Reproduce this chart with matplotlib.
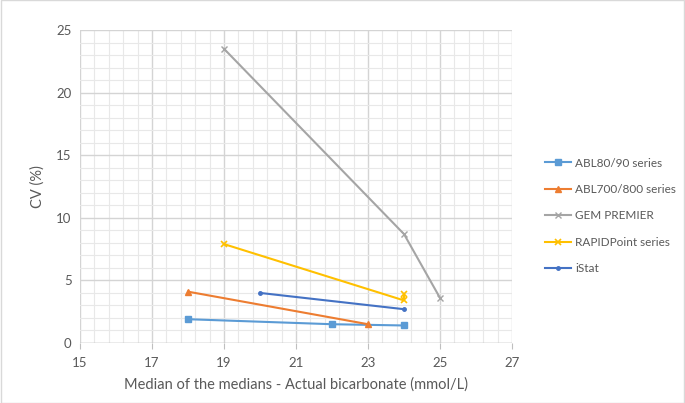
import matplotlib
matplotlib.use('Agg')
import matplotlib.pyplot as plt
import numpy as np

plt.rcParams['font.family'] = ['Lato', 'DejaVu Sans']

# series
abl80_x = [18, 22, 24]
abl80_y = [1.9, 1.5, 1.4]
abl700_x = [18, 23]
abl700_y = [4.1, 1.5]
gem_x = [19, 24, 25]
gem_y = [23.5, 8.7, 3.6]
rapid_x = [19, 24, 24]
rapid_y = [7.9, 3.4, 3.9]
istat_x = [20, 24]
istat_y = [4.0, 2.7]

labels = ['ABL80/90 series', 'ABL700/800 series', 'GEM PREMIER',
          'RAPIDPoint series', 'iStat']

x_ticks = [15, 17, 19, 21, 23, 25, 27]
y_ticks = [0, 5, 10, 15, 20, 25]

fig = plt.figure(figsize=(6.85, 4.03), dpi=100)
ax = fig.add_axes([80 / 685, 1 - 343 / 403, 432 / 685, 313 / 403])

ax.plot(abl80_x, abl80_y, color='#5B9BD5', marker='s', ms=4, lw=1.5, label=labels[0])
ax.plot(abl700_x, abl700_y, color='#ED7D31', marker='^', ms=4, lw=1.5, label=labels[1])
ax.plot(gem_x, gem_y, color='#A5A5A5', marker='x', ms=4, mew=1, lw=1.5, label=labels[2])
ax.plot(rapid_x, rapid_y, color='#FFC000', marker='x', ms=4, mew=1.2, lw=1.5, label=labels[3])
ax.plot(istat_x, istat_y, color='#4472C4', marker='o', ms=2.5, lw=1.5, label=labels[4])

ax.set_xlim(15, 27)
ax.set_ylim(0, 25)
ax.set_xticks(x_ticks)
ax.set_yticks(y_ticks)
ax.set_xticks(np.arange(15, 27.01, 0.4), minor=True)
ax.set_yticks(np.arange(0, 25.01, 1), minor=True)
ax.grid(which='minor', color='#E8E8E8', lw=0.8)
ax.grid(which='major', color='#D4D4D4', lw=1)
ax.set_axisbelow(True)
for s in ax.spines.values():
    s.set_visible(False)
ax.tick_params(which='both', length=0, colors='#595959', labelsize=9.5, pad=6)
ax.tick_params(axis='x', which='major', length=4, color='#BFBFBF')
ax.axhline(0, color='#BFBFBF', lw=1, zorder=1)

ax.set_xlabel('Median of the medians - Actual bicarbonate (mmol/L)',
              color='#595959', fontsize=10.5, labelpad=6)
ax.set_ylabel('CV (%)', color='#595959', fontsize=10.5, labelpad=8)

leg = fig.legend(loc='upper left', bbox_to_anchor=(534 / 685, 1 - 147 / 403),
                 frameon=False, fontsize=8.5, labelcolor='#595959',
                 handlelength=2.2, labelspacing=1.3, handletextpad=0.4)

fig.patches.append(plt.Rectangle((0.001, 0.001), 0.998, 0.998, transform=fig.transFigure,
                                 fill=False, edgecolor='#D9D9D9', lw=1))

fig.savefig('out.png', dpi=100)
